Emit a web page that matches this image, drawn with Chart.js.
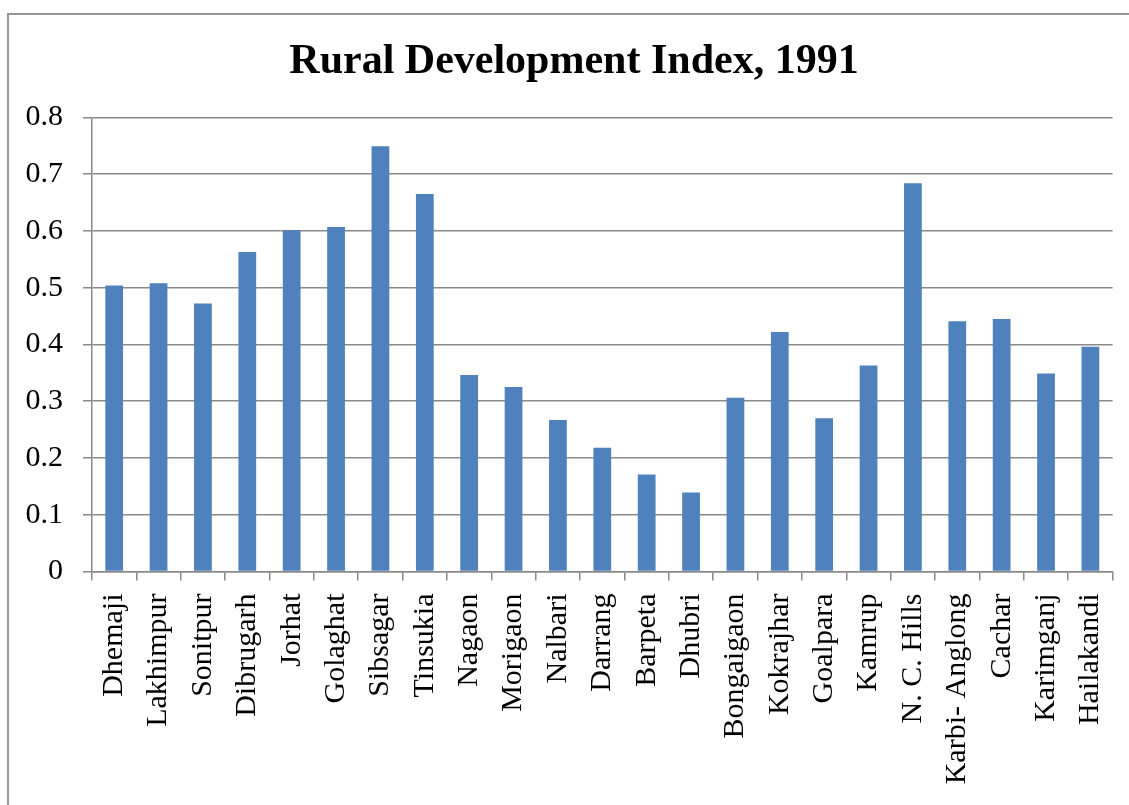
<!DOCTYPE html>
<html>
<head>
<meta charset="utf-8">
<title>Rural Development Index, 1991</title>
<script src="https://cdn.jsdelivr.net/npm/chart.js@4"></script>
<style>
  html, body { margin: 0; padding: 0; background: #fff; overflow: hidden; }
  body { width: 1129px; height: 805px; position: relative; }
  #frame {
    position: absolute; left: 7px; top: 13px; width: 1200px; height: 900px;
    border-left: 2px solid #969696; border-top: 2px solid #969696;
  }
  #chart { position: absolute; left: 8px; top: 14px; }
</style>
</head>
<body>
<div id="frame"></div>
<canvas id="chart" width="1132" height="791"></canvas>
<script>
// districts, left to right
const districts = [
  "Dhemaji", "Lakhimpur", "Sonitpur", "Dibrugarh", "Jorhat", "Golaghat",
  "Sibsagar", "Tinsukia", "Nagaon", "Morigaon", "Nalbari", "Darrang",
  "Barpeta", "Dhubri", "Bongaigaon", "Kokrajhar", "Goalpara", "Kamrup",
  "N. C. Hills", "Karbi- Anglong", "Cachar", "Karimganj", "Hailakandi"
];

// index values, 1991
const rdi1991 = [
  0.504, 0.508, 0.472, 0.563, 0.601, 0.607,
  0.749, 0.665, 0.346, 0.325, 0.267, 0.218,
  0.171, 0.139, 0.306, 0.422, 0.270, 0.363,
  0.684, 0.441, 0.445, 0.349, 0.396
];

const yTickLabels = ["0", "0.1", "0.2", "0.3", "0.4", "0.5", "0.6", "0.7", "0.8"];

const serif = "'Liberation Serif', 'Times New Roman', serif";
const gridGrey = "#8a8a8a";

new Chart(document.getElementById("chart"), {
  type: "bar",
  data: {
    labels: districts,
    datasets: [{
      label: "Rural Development Index, 1991",
      data: rdi1991,
      backgroundColor: "#4f81bd",
      borderWidth: 0,
      barPercentage: 0.4,
      categoryPercentage: 1.0
    }]
  },
  options: {
    responsive: false,
    animation: false,
    layout: { padding: 0 },
    plugins: {
      legend: { display: false },
      tooltip: { enabled: false },
      title: {
        display: true,
        text: "Rural Development Index, 1991",
        color: "#000",
        font: { family: serif, size: 42, weight: "bold", lineHeight: 1.2 },
        padding: { top: 23, bottom: 30 }
      }
    },
    scales: {
      x: {
        grid: {
          display: true,
          drawOnChartArea: false,
          drawTicks: true,
          tickLength: 9,
          color: gridGrey,
          lineWidth: 1.5,
          offset: true
        },
        border: { display: true, color: gridGrey, width: 1.5 },
        ticks: {
          color: "#000",
          font: { family: serif, size: 30 },
          minRotation: 90,
          maxRotation: 90,
          autoSkip: false,
          padding: 13
        },
        afterFit: (scale) => { scale.height = 233.5; }
      },
      y: {
        min: 0,
        max: 0.8,
        ticks: {
          stepSize: 0.1,
          color: "#000",
          font: { family: serif, size: 30 },
          padding: 20,
          callback: (v, i) => yTickLabels[i]
        },
        grid: {
          color: gridGrey,
          lineWidth: 1.5,
          tickLength: 9,
          drawTicks: true
        },
        border: { display: true, color: gridGrey, width: 1.5 },
        afterFit: (scale) => { scale.width = 84; }
      },
      // empty strip on the right so the title stays centred on the frame
      pad: {
        type: "linear",
        position: "right",
        display: true,
        grid: { display: false },
        border: { display: false },
        ticks: { display: false },
        afterFit: (scale) => { scale.width = 27; }
      }
    }
  }
});
</script>
</body>
</html>
